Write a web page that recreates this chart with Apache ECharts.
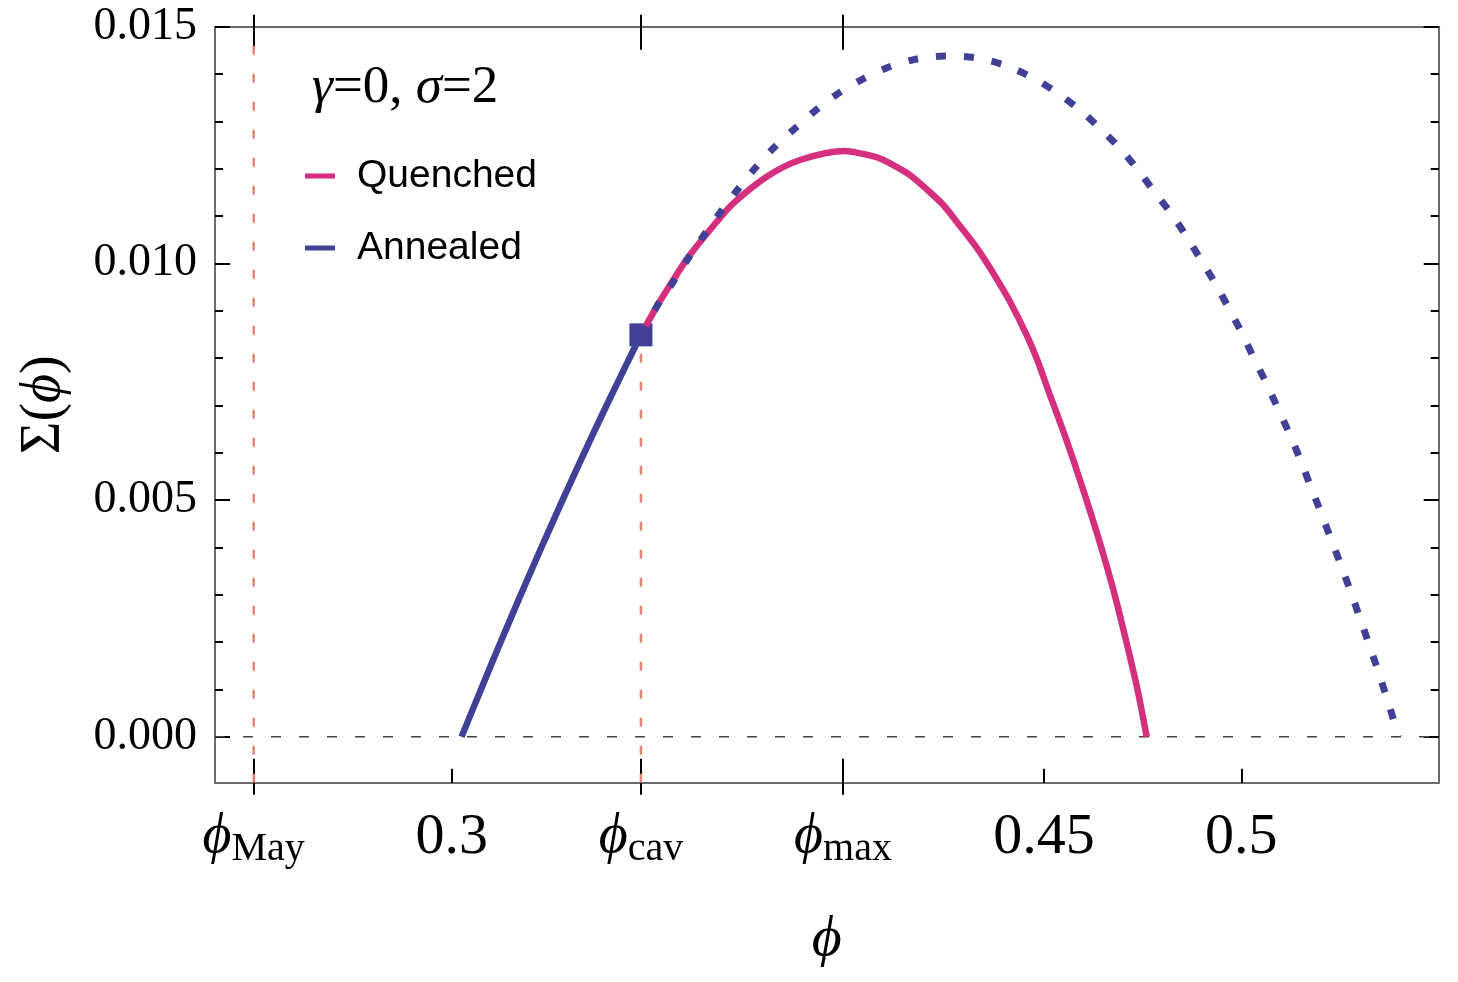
<!DOCTYPE html>
<html>
<head>
<meta charset="utf-8">
<title>Σ(ϕ) quenched vs annealed</title>
<script src="https://cdn.jsdelivr.net/npm/echarts@6/dist/echarts.min.js"></script>
<style>
  html, body { margin: 0; padding: 0; background: #fff; }
  #chart { width: 1458px; height: 982px; }
</style>
</head>
<body>
<div id="chart"></div>
<script>
'use strict';

/* ── Special points on the ϕ axis ── */
const PHI_MAY = 0.2498;
const PHI_CAV = 0.3479;
const PHI_MAX = 0.3991;
const SIGMA_CAV = 0.00849;

/* ── Axis ranges and ticks ── */
const X_MIN = 0.24, X_MAX = 0.55;
const Y_MIN = -0.00097, Y_MAX = 0.015;
const xNumTicks = [0.3, 0.45, 0.5];
const xSymTicks = [PHI_MAY, PHI_CAV, PHI_MAX];
const xLabelValues = [PHI_MAY, 0.3, PHI_CAV, PHI_MAX, 0.45, 0.5];
const xLabelText = [['ϕ', 'May'], ['0.3'], ['ϕ', 'cav'], ['ϕ', 'max'], ['0.45'], ['0.5']];
const yMajorTicks = [0, 0.005, 0.010, 0.015];
const yMinorTicks = [0.001, 0.002, 0.003, 0.004, 0.006, 0.007, 0.008, 0.009,
                     0.011, 0.012, 0.013, 0.014];

/* ── Annealed, solid part (below ϕcav) ── */
const annealedStablePhi = [0.30245, 0.30587, 0.30967, 0.31347, 0.31727, 0.32107, 0.32487,
  0.32867, 0.33247, 0.33627, 0.34007, 0.34387, PHI_CAV];
const annealedStableSigma = [0, 0.000695, 0.001464, 0.002220, 0.002962, 0.003693, 0.004409,
  0.005115, 0.005806, 0.006486, 0.007151, 0.007804, SIGMA_CAV];

/* ── Annealed, dotted part (above ϕcav) ── */
const annealedDottedPhi = [PHI_CAV, 0.35230, 0.35610, 0.35990, 0.36388, 0.36811, 0.37232,
  0.37680, 0.38169, 0.38693, 0.39225, 0.39790, 0.40398, 0.41057, 0.41733, 0.42493, 0.43253,
  0.43988, 0.44705, 0.45305, 0.45880, 0.46394, 0.46901, 0.47365, 0.47795, 0.48219, 0.48616,
  0.48979, 0.49351, 0.49696, 0.50025, 0.50329, 0.50643, 0.50937, 0.51233, 0.51505, 0.51758,
  0.52019, 0.52272, 0.52525, 0.52771, 0.53007, 0.53235, 0.53463, 0.53683, 0.53893, 0.53995];
const annealedDottedSigma = [SIGMA_CAV, 0.009142, 0.009613, 0.010107, 0.010599, 0.011092,
  0.011550, 0.012009, 0.012452, 0.012853, 0.013240, 0.013593, 0.013889, 0.014142, 0.014311,
  0.014381, 0.014345, 0.014191, 0.013927, 0.013620, 0.013261, 0.012875, 0.012452, 0.011994,
  0.011514, 0.011058, 0.010563, 0.010071, 0.009558, 0.009030, 0.008508, 0.007980, 0.007451,
  0.006917, 0.006374, 0.005831, 0.005282, 0.004732, 0.004177, 0.003621, 0.003063, 0.002501,
  0.001952, 0.001394, 0.000824, 0.000262, 0];

/* ── Quenched ── */
const quenchedPhi = [PHI_CAV, 0.35230, 0.35610, 0.35990, 0.36710, 0.37130, 0.37976, 0.38820,
  0.39960, 0.40340, 0.40763, 0.41183, 0.41606, 0.42030, 0.42450, 0.42873, 0.43296, 0.43717,
  0.44140, 0.44563, 0.44832, 0.45136, 0.45450, 0.45744, 0.46022, 0.46293, 0.46547, 0.46782,
  0.46995, 0.47198, 0.47390, 0.47603];
const quenchedSigma = [SIGMA_CAV, 0.009142, 0.009649, 0.010134, 0.010880, 0.011269, 0.011831,
  0.012184, 0.012374, 0.012325, 0.012241, 0.012078, 0.011867, 0.011565, 0.011233, 0.010789,
  0.010331, 0.009790, 0.009190, 0.008487, 0.007959, 0.007255, 0.006549, 0.005846, 0.005142,
  0.004437, 0.003733, 0.003030, 0.002324, 0.001620, 0.000917, 0];

/* ── Reference lines ── */
const zeroLinePhi = [X_MIN, X_MAX];
const zeroLineSigma = [0, 0];
const mayLineSigma = [Y_MIN, Y_MAX];
const cavLineSigma = [Y_MIN, SIGMA_CAV];

/* ── Style constants ── */
const BLUE = '#404096';
const PINK = '#D5307D';
const SALMON = '#E08878';
const FRAME = '#6a6a6a';
const SERIF = "'Liberation Serif', 'DejaVu Serif', serif";
const SANS = "'Liberation Sans', Arial, sans-serif";
const GRID = { left: 215, right: 19.3, top: 26.7, bottom: 199.3 };

function zip(xs, ys) {
  return xs.map((x, i) => [x, ys[i]]);
}

function xLabel(v) {
  let best = 0;
  xLabelValues.forEach((t, i) => {
    if (Math.abs(t - v) < Math.abs(xLabelValues[best] - v)) best = i;
  });
  const t = xLabelText[best];
  return t.length === 2 ? `{phi|${t[0]}}{sub|${t[1]}}` : `{num|${t[0]}}`;
}

/* ── Axis builders ── */
function xAx(grid, position, opts) {
  return Object.assign({
    type: 'value', gridIndex: grid, position: position, min: X_MIN, max: X_MAX,
    axisLine: { show: false, onZero: false },
    axisTick: { show: false },
    axisLabel: { show: false },
    splitLine: { show: false }
  }, opts);
}

function yAx(grid, position, opts) {
  return Object.assign({
    type: 'value', gridIndex: grid, position: position, min: Y_MIN, max: Y_MAX,
    axisLine: { show: false, onZero: false },
    axisTick: { show: false },
    axisLabel: { show: false },
    splitLine: { show: false }
  }, opts);
}

const frameLine = { show: true, onZero: false, lineStyle: { color: FRAME, width: 2 } };
function ticks(values, length, inside) {
  return { show: true, customValues: values, inside: inside, length: length,
           lineStyle: { color: '#000', width: 2 } };
}

const chart = echarts.init(document.getElementById('chart'), null, { renderer: 'canvas' });

chart.setOption({
  animation: false,
  backgroundColor: '#fff',
  title: {
    left: 312, top: 60, padding: 0,
    text: '{i|γ}{r|=0, }{i|σ}{r|=2}',
    textStyle: {
      fontWeight: 'normal',
      rich: {
        i: { fontFamily: SERIF, fontStyle: 'italic', fontWeight: 'normal', fontSize: 53, lineHeight: 56, color: '#000' },
        r: { fontFamily: SERIF, fontWeight: 'normal', fontSize: 53, lineHeight: 56, color: '#000' }
      }
    }
  },
  legend: {
    data: ['Quenched', 'Annealed'],
    orient: 'vertical', left: 305, top: 154, padding: 0,
    icon: 'rect', itemWidth: 30, itemHeight: 5, itemGap: 28,
    selectedMode: false,
    textStyle: { fontFamily: SANS, fontSize: 39, lineHeight: 44, color: '#000',
                 padding: [0, 0, 0, 17] }
  },
  grid: [0, 1, 2, 3].map(() => Object.assign({ containLabel: false }, GRID)),
  xAxis: [
    xAx(0, 'bottom', {
      axisLine: frameLine,
      axisTick: ticks(xNumTicks, 14, true),
      axisLabel: {
        show: true, customValues: xLabelValues, margin: 23, formatter: xLabel,
        rich: {
          phi: { fontFamily: SERIF, fontStyle: 'italic', fontSize: 56, lineHeight: 64, color: '#000' },
          sub: { fontFamily: SERIF, fontSize: 40, lineHeight: 40, verticalAlign: 'bottom', color: '#000' },
          num: { fontFamily: SERIF, fontSize: 58, lineHeight: 64, color: '#000' }
        }
      },
      name: '{i|ϕ}', nameLocation: 'middle', nameGap: 125,
      nameTextStyle: {
        rich: { i: { fontFamily: SERIF, fontStyle: 'italic', fontSize: 58, lineHeight: 64, color: '#000' } }
      }
    }),
    xAx(1, 'top', { axisLine: frameLine, axisTick: ticks(xSymTicks, 23, true) }),
    xAx(2, 'bottom', { axisTick: ticks(xSymTicks, 24, true) }),
    xAx(2, 'top', { axisTick: ticks(xSymTicks, 12, false) }),
    xAx(3, 'bottom', { axisTick: ticks(xSymTicks, 12, false) })
  ],
  yAxis: [
    yAx(0, 'left', {
      axisLine: frameLine,
      axisTick: ticks(yMajorTicks, 15, true),
      axisLabel: {
        show: true, customValues: yMajorTicks, margin: 18,
        formatter: v => v.toFixed(3),
        fontFamily: SERIF, fontSize: 46, color: '#000'
      },
      name: '{s|Σ(}{i|ϕ}{s|)}', nameLocation: 'middle', nameGap: 143, nameRotate: 90,
      nameTextStyle: {
        rich: {
          s: { fontFamily: SERIF, fontSize: 56, color: '#000' },
          i: { fontFamily: SERIF, fontStyle: 'italic', fontSize: 56, color: '#000' }
        }
      }
    }),
    yAx(1, 'right', { axisLine: frameLine, axisTick: ticks(yMajorTicks, 15, true) }),
    yAx(2, 'left', { axisTick: ticks(yMinorTicks, 8, true) }),
    yAx(2, 'right', { axisTick: ticks(yMinorTicks, 8, true) }),
    yAx(3, 'left', { show: false })
  ],
  series: [
    {
      name: 'zero', type: 'line', data: zip(zeroLinePhi, zeroLineSigma),
      symbol: 'none', silent: true,
      lineStyle: { color: '#444', width: 1.5, type: [10, 18] }
    },
    {
      name: 'phiMay', type: 'line', data: zip([PHI_MAY, PHI_MAY], mayLineSigma),
      symbol: 'none', silent: true,
      lineStyle: { color: SALMON, width: 2.5, type: [9, 19] }
    },
    {
      name: 'phiCav', type: 'line', data: zip([PHI_CAV, PHI_CAV], cavLineSigma),
      symbol: 'none', silent: true,
      lineStyle: { color: SALMON, width: 2.5, type: [9, 19] }
    },
    {
      name: 'Quenched', type: 'line', data: zip(quenchedPhi, quenchedSigma),
      symbol: 'none', smooth: 0.3, color: PINK,
      lineStyle: { color: PINK, width: 6.5 }
    },
    {
      name: 'Annealed', type: 'line', data: zip(annealedStablePhi, annealedStableSigma),
      symbol: 'none', smooth: 0.3, color: BLUE,
      lineStyle: { color: BLUE, width: 6.5 }
    },
    {
      name: 'Annealed', type: 'line', data: zip(annealedDottedPhi, annealedDottedSigma),
      symbol: 'none', smooth: 0.3, color: BLUE,
      lineStyle: { color: BLUE, width: 7, type: [10, 18], cap: 'butt' }
    },
    {
      name: 'cavity', type: 'scatter', data: [[PHI_CAV, SIGMA_CAV]],
      symbol: 'rect', symbolSize: 23, color: BLUE,
      itemStyle: { color: BLUE, opacity: 1 }
    }
  ]
});

window.addEventListener('resize', () => chart.resize());
</script>
</body>
</html>
